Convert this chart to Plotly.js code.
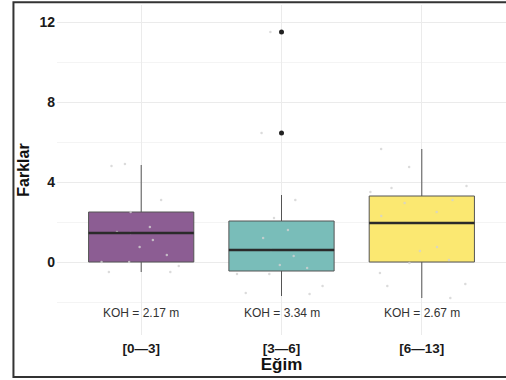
<!DOCTYPE html>
<html>
<head>
<meta charset="utf-8">
<script src="https://cdn.plot.ly/plotly-3.0.1.min.js"></script>
<style>html,body{margin:0;padding:0;background:#fff;}#chart{width:506px;height:380px;}</style>
</head>
<body>
<div id="chart"></div>
<script>
// ---- data ----
const categories = ['[0—3]', '[3—6]', '[6—13]'];
const q1 = [0, -0.45, 0];
const medians = [1.45, 0.6, 1.95];
const q3 = [2.5, 2.05, 3.3];
const lowerFence = [-0.5, -1.7, -1.8];
const upperFence = [4.85, 3.35, 5.65];
const kohValues = [2.17, 3.34, 2.67];
const outlierCats = ['[3—6]', '[3—6]'];
const outlierVals = [11.5, 6.45];
const pointsG1 = [4.8, 4.9, 3.1, 2.5, 1.75, 1.45, 1.5, 1.1, 0.75, 0.35, 0, 0, -0.2, -0.5, -0.5];
const pointsG2 = [11.5, 6.45, 3.1, 2.2, 1.6, 1.2, 0.6, 0.3, -0.15, -0.3, -0.6, -0.6, -1.2, -1.55, -1.6];
const pointsG3 = [5.65, 4.75, 3.8, 3.7, 3.5, 3.1, 2.95, 2.5, 2.3, 1.95, 0.75, 0.55, 0.1, -0.05, -0.55, -1.1, -1.2, -1.8];
const yTicks = [0, 4, 8, 12];

const fills = ['#8C5D93', '#79BDB9', '#FBE871'];
const groupPoints = [pointsG1, pointsG2, pointsG3];
const BOXW = 0.75;

const traces = [];
categories.forEach((c, i) => {
  traces.push({
    type: 'box', x: [c], q1: [q1[i]], median: [medians[i]], q3: [q3[i]],
    lowerfence: [lowerFence[i]], upperfence: [upperFence[i]],
    boxpoints: false, width: BOXW, whiskerwidth: 0,
    fillcolor: fills[i], line: {color: '#555555', width: 1},
    showlegend: false, hoverinfo: 'skip'
  });
});
categories.forEach((c, i) => {
  traces.push({
    type: 'box', x: groupPoints[i].map(() => c), y: groupPoints[i],
    boxpoints: 'all', jitter: 1, pointpos: 0, width: 0.8,
    fillcolor: 'rgba(0,0,0,0)', line: {color: 'rgba(0,0,0,0)', width: 0},
    marker: {color: 'rgba(210,210,210,0.8)', size: 2.5},
    showlegend: false, hoverinfo: 'skip'
  });
});
traces.push({
  type: 'scatter', mode: 'markers', x: outlierCats, y: outlierVals,
  marker: {color: '#222222', size: 5}, showlegend: false, hoverinfo: 'skip'
});

const shapes = medians.map((m, i) => ({
  type: 'line', xref: 'x', yref: 'y',
  x0: i - BOXW / 2, x1: i + BOXW / 2, y0: m, y1: m,
  line: {color: '#2a2a2a', width: 2.4}
}));
shapes.push({
  type: 'rect', xref: 'paper', yref: 'paper',
  x0: -0.097, x1: 1.02, y0: -0.127, y1: 1.008,
  line: {color: '#333333', width: 2}, fillcolor: 'rgba(0,0,0,0)', layer: 'below'
});

const annotations = categories.map((c, i) => ({
  x: c, y: -2.55, xref: 'x', yref: 'y',
  text: 'KOH = ' + kohValues[i].toFixed(2) + ' m',
  showarrow: false, font: {family: 'Liberation Sans, Arial, sans-serif', size: 12, color: '#333333'}
}));

const layout = {
  width: 506, height: 380,
  margin: {l: 57, r: 0, t: 5, b: 45},
  paper_bgcolor: '#ffffff', plot_bgcolor: '#ffffff',
  boxmode: 'overlay',
  showlegend: false,
  font: {family: 'Liberation Sans, Arial, sans-serif'},
  xaxis: {
    type: 'category', categoryarray: categories, categoryorder: 'array',
    range: [-0.6, 2.6],
    showgrid: true, gridcolor: '#ebebeb', gridwidth: 1,
    zeroline: false, showline: false, ticks: '',
    tickfont: {size: 13.5, color: '#1a1a1a', weight: 'bold'},
    ticklabelstandoff: 3,
    title: {text: 'Eğim', font: {size: 17, color: '#111111', weight: 'bold'}, standoff: 3},
    automargin: false
  },
  yaxis: {
    range: [-3.65, 12.85],
    tickvals: yTicks, ticktext: yTicks.map(String),
    showgrid: true, gridcolor: '#ebebeb', gridwidth: 1,
    minor: {dtick: 2, tick0: 0, showgrid: true, gridcolor: '#f4f4f4', gridwidth: 1},
    zeroline: false, showline: false, ticks: '',
    tickfont: {size: 14, color: '#1a1a1a', weight: 'bold'},
    ticklabelstandoff: 1,
    title: {text: 'Farklar', font: {size: 16, color: '#111111', weight: 'bold'}, standoff: 5},
    automargin: false
  },
  shapes: shapes,
  annotations: annotations
};

Plotly.newPlot('chart', traces, layout, {staticPlot: true, displayModeBar: false});
</script>
</body>
</html>
